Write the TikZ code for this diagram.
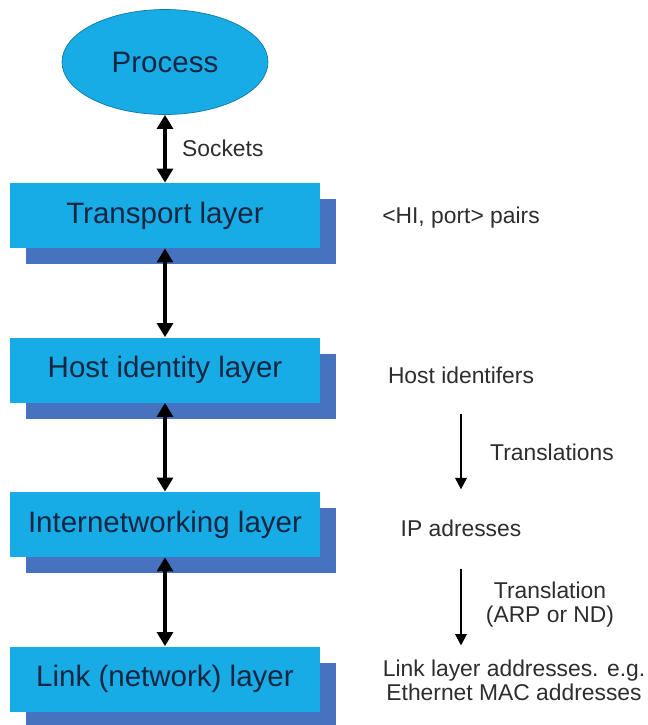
\documentclass[tikz,border=0pt]{standalone}
\usepackage{fontspec}
\setmainfont{Liberation Sans}
\usepackage{tikz}
\usetikzlibrary{shapes.geometric, shadows, arrows.meta}

\definecolor{layerblue}{RGB}{24,172,230}
\definecolor{shadeblue}{RGB}{70,114,192}
\definecolor{layertext}{RGB}{22,38,66}
\definecolor{notetext}{RGB}{45,45,45}

\tikzset{
  layerbox/.style={rectangle, fill=layerblue, text=layertext,
    minimum width=6.2cm, minimum height=1.3cm,
    font=\fontsize{16.8}{20}\selectfont,
    general shadow={fill=shadeblue, shadow xshift=0.32cm, shadow yshift=-0.32cm}},
  procbox/.style={ellipse, fill=layerblue, draw=layerblue!70!black, thin, text=layertext,
    minimum width=4.12cm, minimum height=2.1cm,
    font=\fontsize{16.8}{20}\selectfont},
  note/.style={text=notetext, font=\fontsize{13}{13.7}\selectfont, align=center},
  updown/.style={line width=2pt,
    {Triangle[width=9pt,length=8pt]}-{Triangle[width=9pt,length=8pt]}},
  godown/.style={line width=1.2pt, -{Triangle[width=6.5pt,length=6.5pt]}},
}

\begin{document}
\begin{tikzpicture}[x=0.02cm, y=-0.02cm]
  \useasboundingbox (0,0) rectangle (648,725);

  % protocol stack
  \node[procbox] (process) at (165,62) {Process};
  \node[layerbox] (transport) at (165,215.5) {Transport layer};
  \node[layerbox] (hostid) at (165,370) {Host identity layer};
  \node[layerbox] (internet) at (165,524.5) {Internetworking layer};
  \node[layerbox] (link) at (165,679) {Link (network) layer};

  \node[note, anchor=west] (sockets) at (176,148) {Sockets};

  % identifiers on the right
  \node[note] (pairs) at (461,218) {<HI, port> pairs};
  \node[note] (hostids) at (461,375) {Host identifers};
  \node[note] (ipaddr) at (461,528) {IP adresses};
  \node[note] (linkaddr) at (514,680) {Link layer addresses. e.g.\\Ethernet MAC addresses};
  \node[note, anchor=west] (transl) at (484,452) {Translations};
  \node[note] (arpnd) at (550,605) {Translation\\(ARP or ND)};

  \draw[updown] (process) -- (transport);
  \draw[updown] (transport) -- (hostid);
  \draw[updown] (hostid) -- (internet);
  \draw[updown] (internet) -- (link);

  \draw[godown, shorten <=13.7pt, shorten >=13.7pt] (hostids) -- (ipaddr);
  \draw[godown, shorten <=14.8pt, shorten >=4.5pt] (ipaddr) -- (linkaddr.north -| ipaddr);
\end{tikzpicture}
\end{document}
